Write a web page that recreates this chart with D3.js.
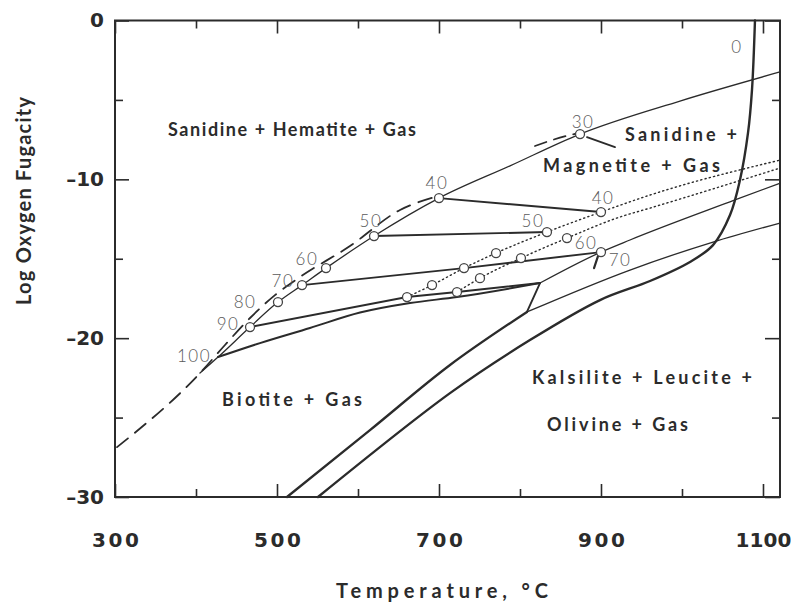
<!DOCTYPE html>
<html>
<head>
<meta charset="utf-8">
<script src="https://cdn.jsdelivr.net/npm/d3@7"></script>
<style>
  body { margin: 0; background: #fff; }
  svg { display: block; }
</style>
</head>
<body>
<svg id="chart" width="791" height="607"></svg>
<script>
// all points are [temperature in °C, log oxygen fugacity]

// sanidine + hematite / sanidine + magnetite boundary (solid)
const upperBoundary = [[404.9, -22.2], [427.2, -21.19], [466.7, -19.3], [501.2, -17.73], [530.9, -16.66],
  [560.5, -15.59], [619.8, -13.57], [700, -11.18], [787.7, -9.15], [874.1, -7.15], [997.5, -5.07], [1121, -3.24]];

// dashed buffer curve (two visible stretches) and the dashed tie at 30
const dashedBuffer = [[302.5, -26.86], [404.9, -22.2], [435.8, -20.43], [466.7, -18.73], [497.5, -17.29],
  [528.4, -16.15], [590.1, -14.2], [651.9, -11.93], [695.1, -11.11]];
const dashedBuffer30 = [[818.5, -7.9], [861.7, -7.21], [874, -7.08]];
const dashedTie30 = [[882.7, -7.34], [917.3, -7.97]];

// lower edge of the biotite field (from the 100 point)
const biotite100 = [[427.2, -21.19], [479, -20.31], [540.7, -19.36], [602.5, -18.39], [664.2, -17.79],
  [722.2, -17.41], [824.7, -16.53]];
// line from the 90 point
const line90 = [[466.7, -19.3], [660.5, -17.41], [722.2, -17.1], [824.7, -16.53]];
// tie lines
const tie70 = [[530.9, -16.66], [730.9, -15.59], [900, -14.58]];
const tie50 = [[619.8, -13.57], [833.3, -13.32]];
const tie40 = [[700, -11.18], [900, -12.06]];
const kink = [[824.7, -16.53], [808.6, -18.35]];
const leader70 = [[896.3, -14.83], [891.4, -15.59]];

// thin lines to the right edge
const thinUpper = [[824.7, -16.53], [900, -14.58], [935.8, -13.82], [1065.4, -11.3], [1121, -10.24]];
const thinLower = [[808.6, -18.35], [935.8, -15.71], [1038.3, -13.95], [1121, -12.75]];

// heavy lines from the bottom
const heavyLeft = [[512.3, -30], [614.8, -25.79], [713.6, -21.69], [808.6, -18.35]];
const heavyRight = [[550.6, -30], [713.6, -23.46], [812.3, -20.12], [898.8, -17.6], [960.5, -16.4],
  [1009.9, -15.2], [1038.3, -14.14], [1059.3, -12.25], [1071.6, -10.04], [1081.5, -7.08], [1086.4, -4.38], [1090.1, 0]];

// dotted curves
const dottedUpper = [[660.5, -17.41], [691.4, -16.66], [730.9, -15.59], [770.4, -14.64], [833.3, -13.32],
  [900, -12.06], [960.5, -10.99], [1121, -8.79]];
const dottedLower = [[722.2, -17.1], [750.6, -16.22], [801.2, -14.96], [858, -13.7], [923.5, -12.37],
  [960.5, -11.81], [1121, -9.29]];

// open circles
const circles = [[466.7, -19.3], [501.2, -17.73], [530.9, -16.66], [560.5, -15.59], [619.8, -13.57],
  [700, -11.18], [874.1, -7.15], [660.5, -17.41], [691.4, -16.66], [730.9, -15.59], [770.4, -14.64],
  [833.3, -13.32], [900, -12.06], [722.2, -17.1], [750.6, -16.22], [801.2, -14.96], [858, -13.7], [900, -14.58]];

// composition numbers
const numberLabels = [["100", 397.5, -21.13], ["90", 439.5, -19.11], ["80", 460.5, -17.73], ["70", 507.4, -16.4],
  ["60", 537, -15.02], ["50", 616, -12.63], ["40", 697.5, -10.23], ["30", 877.8, -6.39], ["40", 902.5, -11.18],
  ["50", 816, -12.63], ["60", 881.5, -14.01], ["70", 923.5, -15.08], ["0", 1067.9, -1.67]];

// field names: text, left temperature, baseline fugacity, width
const fieldLabels = [["Sanidine + Hematite + Gas", 365.4, -7.28, 248], ["Sanidine +", 929.6, -7.59, 112],
  ["Magnetite + Gas", 828.4, -9.54, 177], ["Biotite + Gas", 432.1, -24.28, 140],
  ["Kalsilite + Leucite +", 814.8, -22.89, 220], ["Olivine + Gas", 833.3, -25.85, 141]];

const xMajor = [300, 500, 700, 900, 1100];
const xMinor = [400, 600, 800, 1000];
const yMajor = [0, -10, -20, -30];
const yMinor = [-5, -15, -25];

const svg = d3.select("#chart");
const ink = "#2b2b2b";

const x = d3.scaleLinear().domain([300, 1121]).range([115, 780]);
const y = d3.scaleLinear().domain([-30, 0]).range([497, 20.5]);

const smooth = d3.line().x(d => x(d[0])).y(d => y(d[1])).curve(d3.curveMonotoneX);
const straight = d3.line().x(d => x(d[0])).y(d => y(d[1]));

function draw(points, gen, width, dash) {
  svg.append("path")
    .attr("d", gen(points))
    .attr("fill", "none")
    .attr("stroke", ink)
    .attr("stroke-width", width)
    .attr("stroke-linecap", "round")
    .attr("stroke-dasharray", dash || null);
}

// axes with inward ticks on all four sides
function styleAxis(g) {
  g.select(".domain").remove();
  g.selectAll(".tick line").attr("stroke", ink).attr("stroke-width", 1.6);
  g.selectAll("text")
    .attr("fill", ink)
    .style("font-family", "'DejaVu Sans', sans-serif")
    .style("font-size", "20px")
    .style("font-weight", "700");
}

svg.append("g").attr("transform", `translate(0,${y(-30)})`)
  .call(d3.axisBottom(x).tickValues(xMajor).tickSize(-13).tickPadding(36).tickFormat(d3.format("d")))
  .call(styleAxis)
  .selectAll("text").attr("textLength", d => d === 1100 ? 56 : 47).attr("lengthAdjust", "spacing");
svg.append("g").attr("transform", `translate(0,${y(-30)})`)
  .call(d3.axisBottom(x).tickValues(xMinor).tickSize(-8).tickFormat(""))
  .call(styleAxis);
svg.append("g").attr("transform", `translate(0,${y(0)})`)
  .call(d3.axisTop(x).tickValues(xMajor).tickSize(-13).tickFormat(""))
  .call(styleAxis);
svg.append("g").attr("transform", `translate(0,${y(0)})`)
  .call(d3.axisTop(x).tickValues(xMinor).tickSize(-8).tickFormat(""))
  .call(styleAxis);
svg.append("g").attr("transform", `translate(${x(300)},0)`)
  .call(d3.axisLeft(y).tickValues(yMajor).tickSize(-14).tickPadding(11).tickFormat(d => d === 0 ? "0" : "\u2013" + Math.abs(d)))
  .call(styleAxis);
svg.append("g").attr("transform", `translate(${x(300)},0)`)
  .call(d3.axisLeft(y).tickValues(yMinor).tickSize(-8).tickFormat(""))
  .call(styleAxis);
svg.append("g").attr("transform", `translate(${x(1121)},0)`)
  .call(d3.axisRight(y).tickValues(yMajor).tickSize(-15).tickFormat(""))
  .call(styleAxis);
svg.append("g").attr("transform", `translate(${x(1121)},0)`)
  .call(d3.axisRight(y).tickValues(yMinor).tickSize(-8).tickFormat(""))
  .call(styleAxis);

// plot frame
svg.append("rect")
  .attr("x", x(300)).attr("y", y(0))
  .attr("width", x(1121) - x(300)).attr("height", y(-30) - y(0))
  .attr("fill", "none").attr("stroke", ink).attr("stroke-width", 2);

// curves
draw(dottedUpper, smooth, 1.4, "1.2,3.2");
draw(dottedLower, smooth, 1.4, "1.2,3.2");
draw(dashedBuffer, smooth, 1.8, "14,9");
draw(dashedBuffer30, smooth, 1.8, "12,8");
draw(dashedTie30, straight, 1.8);
draw(upperBoundary, smooth, 1.3);
draw(biotite100, smooth, 2);
draw(line90, straight, 2);
draw(tie70, straight, 1.9);
draw(tie50, straight, 1.9);
draw(tie40, straight, 1.9);
draw(kink, straight, 1.9);
draw(leader70, straight, 2.2);
draw(thinUpper, smooth, 1.3);
draw(thinLower, smooth, 1.3);
draw(heavyLeft, smooth, 2.3);
draw(heavyRight, d3.line().x(d => x(d[0])).y(d => y(d[1])).curve(d3.curveCatmullRom), 2.4);

// open circles
svg.selectAll(".pt")
  .data(circles)
  .enter()
  .append("circle")
  .attr("class", "pt")
  .attr("cx", d => x(d[0]))
  .attr("cy", d => y(d[1]))
  .attr("r", 4.5)
  .attr("fill", "#fff")
  .attr("stroke", "#444")
  .attr("stroke-width", 1.3);

// composition numbers
svg.selectAll(".num")
  .data(numberLabels)
  .enter()
  .append("text")
  .attr("class", "num")
  .attr("x", d => x(d[1]))
  .attr("y", d => y(d[2]))
  .attr("dy", "0.36em")
  .attr("text-anchor", "middle")
  .attr("fill", "#5a5a5a")
  .style("font-family", "Lato, 'DejaVu Sans', sans-serif")
  .style("font-weight", "300")
  .style("font-size", "17px")
  .style("letter-spacing", "1.5px")
  .text(d => d[0]);

// field names
svg.selectAll(".field")
  .data(fieldLabels)
  .enter()
  .append("text")
  .attr("class", "field")
  .attr("x", d => x(d[1]))
  .attr("y", d => y(d[2]))
  .attr("textLength", d => d[3])
  .attr("lengthAdjust", "spacing")
  .attr("fill", ink)
  .style("font-family", "Lato, 'DejaVu Sans', sans-serif")
  .style("font-weight", "700")
  .style("font-size", "18px")
  .text(d => d[0]);

// axis titles
svg.append("text")
  .attr("x", 442).attr("y", 598)
  .attr("text-anchor", "middle")
  .attr("textLength", 212).attr("lengthAdjust", "spacing")
  .attr("fill", ink)
  .style("font-family", "Lato, 'DejaVu Sans', sans-serif")
  .style("font-weight", "700")
  .style("font-size", "20px")
  .text("Temperature, °C");

svg.append("text")
  .attr("transform", "translate(31,201) rotate(-90)")
  .attr("text-anchor", "middle")
  .attr("textLength", 208).attr("lengthAdjust", "spacing")
  .attr("fill", ink)
  .style("font-family", "Lato, 'DejaVu Sans', sans-serif")
  .style("font-weight", "700")
  .style("font-size", "20px")
  .text("Log Oxygen Fugacity");
</script>
</body>
</html>
